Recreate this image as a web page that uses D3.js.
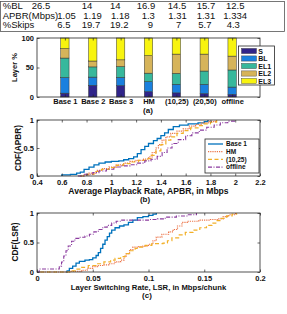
<!DOCTYPE html>
<html>
<head>
<meta charset="utf-8">
<script src="https://cdn.jsdelivr.net/npm/d3@7"></script>
<style>
  body { margin: 0; background: #fff; }
  text { font-family: "Liberation Sans", Arial, sans-serif; }
</style>
</head>
<body>
<svg id="chart" width="287" height="314"></svg>
<script>
// ---- data ----
const schemes = ["Base 1", "Base 2", "Base 3", "HM", "(10,25)", "(20,50)", "offline"];
const rowLabels = ["%BL", "APBR(Mbps)", "%Skips"];
const pctBL = ["26.5", "14", "14", "16.9", "14.5", "15.7", "12.5"];
const apbr = ["1.05", "1.19", "1.18", "1.3", "1.31", "1.31", "1.334"];
const pctSkips = ["6.5", "19.7", "19.2", "9", "7", "5.7", "4.3"];

const layerNames = ["S", "BL", "EL1", "EL2", "EL3"];
const layerS = [6.5, 19.7, 19.2, 9, 7, 5.7, 4.3];
const layerBL = [26.5, 14, 14, 16.9, 14.5, 15.7, 12.5];
const layerEL1 = [33, 17.3, 18.4, 14.5, 18.5, 22.6, 29];
const layerEL2 = [16, 10, 11.4, 29.6, 32.7, 28.7, 23.5];
const layerEL3 = [18, 39, 37, 30, 27.3, 27.3, 30.7];

const cdfNames = ["Base 1", "HM", "(10,25)", "offline"];
const apbrBase1 = [[0.6,0],[0.6,0.02],[0.67,0.03],[0.72,0.05],[0.75,0.07],[0.78,0.12],[0.82,0.16],[0.86,0.2],[0.9,0.23],[0.95,0.25],[1.0,0.26],[1.06,0.27],[1.1,0.29],[1.14,0.31],[1.18,0.34],[1.21,0.4],[1.24,0.47],[1.27,0.53],[1.3,0.58],[1.34,0.63],[1.37,0.67],[1.4,0.72],[1.43,0.77],[1.46,0.83],[1.5,0.88],[1.55,0.91],[1.62,0.93],[1.7,0.95],[1.75,0.97],[1.78,1.0]];
const apbrHM = [[0.75,0],[0.78,0.02],[0.82,0.05],[0.88,0.1],[0.93,0.13],[0.98,0.16],[1.04,0.2],[1.1,0.23],[1.15,0.26],[1.2,0.28],[1.26,0.3],[1.3,0.34],[1.33,0.42],[1.36,0.5],[1.38,0.56],[1.41,0.64],[1.44,0.7],[1.48,0.76],[1.53,0.8],[1.58,0.84],[1.63,0.89],[1.68,0.92],[1.73,0.95],[1.79,0.97],[1.84,1.0]];
const apbr1025 = [[0.75,0],[0.8,0.03],[0.86,0.08],[0.92,0.12],[0.98,0.15],[1.04,0.19],[1.1,0.22],[1.16,0.25],[1.22,0.28],[1.28,0.31],[1.32,0.37],[1.36,0.45],[1.4,0.56],[1.44,0.64],[1.48,0.7],[1.53,0.76],[1.58,0.81],[1.64,0.86],[1.7,0.9],[1.75,0.93],[1.8,0.96],[1.85,1.0]];
const apbrOffline = [[0.73,0],[0.78,0.03],[0.85,0.06],[0.9,0.09],[0.96,0.12],[1.02,0.16],[1.08,0.18],[1.15,0.2],[1.21,0.23],[1.27,0.27],[1.32,0.3],[1.37,0.35],[1.41,0.42],[1.45,0.5],[1.49,0.58],[1.54,0.65],[1.6,0.72],[1.65,0.77],[1.71,0.82],[1.77,0.87],[1.83,0.91],[1.88,0.95],[1.94,0.98],[2.0,1.0]];

const lsrBase1 = [[0.026,0],[0.027,0.02],[0.029,0.06],[0.032,0.1],[0.035,0.15],[0.038,0.18],[0.043,0.2],[0.047,0.21],[0.05,0.24],[0.053,0.28],[0.055,0.33],[0.057,0.4],[0.059,0.47],[0.061,0.54],[0.063,0.6],[0.065,0.66],[0.067,0.71],[0.07,0.75],[0.074,0.78],[0.078,0.8],[0.082,0.84],[0.086,0.88],[0.09,0.92],[0.095,0.94],[0.1,0.96],[0.104,0.98],[0.107,1.0]];
const lsrHM = [[0.003,0],[0.03,0.01],[0.04,0.03],[0.045,0.06],[0.05,0.09],[0.055,0.11],[0.06,0.12],[0.065,0.14],[0.07,0.17],[0.075,0.2],[0.078,0.26],[0.08,0.31],[0.083,0.38],[0.086,0.42],[0.09,0.43],[0.095,0.44],[0.1,0.47],[0.104,0.53],[0.107,0.59],[0.112,0.64],[0.118,0.68],[0.122,0.72],[0.126,0.78],[0.13,0.84],[0.135,0.86],[0.145,0.88],[0.155,0.89],[0.163,0.9],[0.167,0.94],[0.172,0.97],[0.178,1.0]];
const lsr1025 = [[0.003,0],[0.03,0.02],[0.035,0.05],[0.04,0.08],[0.046,0.11],[0.053,0.14],[0.06,0.17],[0.066,0.2],[0.07,0.23],[0.075,0.26],[0.079,0.31],[0.083,0.36],[0.088,0.4],[0.092,0.42],[0.097,0.45],[0.103,0.48],[0.113,0.49],[0.117,0.53],[0.121,0.58],[0.127,0.63],[0.133,0.67],[0.14,0.71],[0.146,0.75],[0.152,0.79],[0.157,0.83],[0.161,0.87],[0.165,0.91],[0.17,0.95],[0.175,0.98],[0.179,1.0]];
const lsrOffline = [[0,0],[0.002,0.05],[0.018,0.05],[0.02,0.1],[0.022,0.17],[0.024,0.27],[0.026,0.36],[0.028,0.44],[0.031,0.52],[0.034,0.57],[0.038,0.59],[0.043,0.61],[0.047,0.64],[0.051,0.68],[0.055,0.72],[0.059,0.76],[0.063,0.79],[0.067,0.83],[0.071,0.86],[0.076,0.88],[0.1,0.89],[0.108,0.9],[0.115,0.93],[0.125,0.95],[0.135,0.97],[0.143,1.0]];

// ---- styles ----
const layerColors = ["#30248a", "#1a80de", "#37b89c", "#d6b45a", "#f8f40f"];
const lineStyles = [
  {color: "#0072bd", dash: null, width: 1.3},
  {color: "#ec7448", dash: "1.2,1", width: 1.2},
  {color: "#f2b028", dash: "4,2.5", width: 1.2},
  {color: "#8a3a9e", dash: "4,1.5,1,1.5", width: 1.1}
];
const axisColor = "#262626";
const tickLen = 2.5;

const svg = d3.select("#chart");
svg.append("rect").attr("width", 287).attr("height", 314).attr("fill", "#fff");

// ---- table ----
const table = svg.append("g");
table.append("rect")
  .attr("x", 0.5).attr("y", 1.5).attr("width", 284).attr("height", 30)
  .attr("fill", "#fff").attr("stroke", "#555").attr("stroke-width", 0.8);
const tableRowsData = [pctBL, apbr, pctSkips];
const rowBase = [9.3, 18.7, 28];
const colStart = [
  [31.7, 81.7, 110, 136.7, 167.7, 196.7, 226],
  [57.3, 83.3, 111, 141.7, 168.3, 196.7, 223.3],
  [57.3, 81.7, 110, 147.7, 176, 198.3, 226.7]
];
tableRowsData.forEach((row, r) => {
  table.append("text").attr("x", 2.7).attr("y", rowBase[r])
    .attr("font-size", 9.5).attr("fill", "#111").text(rowLabels[r]);
  table.selectAll(null).data(row).join("text")
    .attr("x", (d, i) => colStart[r][i]).attr("y", rowBase[r])
    .attr("font-size", 9.5).attr("fill", "#111").text(d => d);
});

// ---- generic MATLAB-like box axes ----
function boxAxes(g, x, y, xTicks, yTicks, xFmt, yFmt, xPad) {
  const [x0, x1] = x.range();
  const [y0, y1] = y.range();
  const style = sel => {
    sel.select(".domain").remove();
    sel.selectAll("line").attr("stroke", axisColor).attr("stroke-width", 0.7);
    sel.selectAll("text").attr("fill", "#111").attr("font-size", 7.5).attr("font-weight", "bold");
  };
  g.append("g").attr("transform", `translate(0,${y0})`)
    .call(d3.axisBottom(x).tickValues(xTicks).tickFormat(xFmt).tickSizeInner(-tickLen).tickSizeOuter(0).tickPadding(xPad))
    .call(style);
  g.append("g").attr("transform", `translate(0,${y1})`)
    .call(d3.axisTop(x).tickValues(xTicks).tickFormat("").tickSizeInner(-tickLen).tickSizeOuter(0))
    .call(style);
  g.append("g").attr("transform", `translate(${x0},0)`)
    .call(d3.axisLeft(y).tickValues(yTicks).tickFormat(yFmt).tickSizeInner(-tickLen).tickSizeOuter(0).tickPadding(3))
    .call(style);
  g.append("g").attr("transform", `translate(${x1},0)`)
    .call(d3.axisRight(y).tickValues(yTicks).tickFormat("").tickSizeInner(-tickLen).tickSizeOuter(0))
    .call(style);
  g.append("rect").attr("x", x0).attr("y", y1).attr("width", x1 - x0).attr("height", y0 - y1)
    .attr("fill", "none").attr("stroke", axisColor).attr("stroke-width", 0.8);
}

function yLabel(g, text, cx, cy, size) {
  g.append("text").attr("transform", `translate(${cx},${cy}) rotate(-90)`)
    .attr("text-anchor", "middle").attr("font-size", size).attr("font-weight", "bold")
    .attr("fill", "#111").text(text);
}
function cText(g, text, cx, y, size) {
  g.append("text").attr("x", cx).attr("y", y).attr("text-anchor", "middle")
    .attr("font-size", size).attr("font-weight", "bold").attr("fill", "#111").text(text);
}

// ---- (a) stacked bars ----
const ga = svg.append("g");
const xa = d3.scaleLinear().domain([0, 8]).range([37, 260]);
const ya = d3.scaleLinear().domain([0, 100]).range([97, 38]);
const barRows = schemes.map((s, i) => ({
  scheme: s, idx: i + 1,
  S: layerS[i], BL: layerBL[i], EL1: layerEL1[i], EL2: layerEL2[i], EL3: layerEL3[i]
}));
const stacked = d3.stack().keys(layerNames)(barRows);
const barW = xa(0.3) - xa(0);
ga.selectAll("g.layer").data(stacked).join("g")
  .attr("fill", (d, i) => layerColors[i])
  .selectAll("rect").data(d => d).join("rect")
  .attr("x", d => xa(d.data.idx) - barW / 2)
  .attr("y", d => ya(d[1]))
  .attr("width", barW)
  .attr("height", d => ya(d[0]) - ya(d[1]))
  .attr("stroke", "#333").attr("stroke-width", 0.5);
boxAxes(ga, xa, ya, d3.range(1, 8), [0, 50, 100], d => schemes[d - 1], d3.format("d"), 1.8);
yLabel(ga, "Layer %", 16.5, 67.5, 7.5);
cText(ga, "(a)", 148, 112.5, 8);

// legend (a)
const la = ga.append("g");
la.append("rect").attr("x", 238.5).attr("y", 46).attr("width", 36).attr("height", 39)
  .attr("fill", "#fff").attr("stroke", axisColor).attr("stroke-width", 0.8);
layerNames.forEach((n, i) => {
  const cy = 51 + i * 7.5;
  la.append("rect").attr("x", 241.5).attr("y", cy - 2.6).attr("width", 15).attr("height", 5.2)
    .attr("fill", layerColors[i]).attr("stroke", "#333").attr("stroke-width", 0.4);
  la.append("text").attr("x", 258.3).attr("y", cy + 2.5).attr("font-size", 7)
    .attr("font-weight", "bold").attr("fill", "#111").text(n);
});

// ---- CDF panels ----
function cdfPanel(series, xDomain, yRange, xTicks, xFmt, xPad) {
  const g = svg.append("g");
  const x = d3.scaleLinear().domain(xDomain).range([37, 260]);
  const y = d3.scaleLinear().domain([0, 1]).range(yRange);
  const line = d3.line().x(d => x(d[0])).y(d => y(d[1])).curve(d3.curveStepAfter);
  series.forEach((s, i) => {
    g.append("path").datum(s).attr("d", line).attr("fill", "none")
      .attr("stroke", lineStyles[i].color).attr("stroke-width", lineStyles[i].width)
      .attr("stroke-dasharray", lineStyles[i].dash);
  });
  boxAxes(g, x, y, xTicks, [0, 0.5, 1], xFmt, d3.format("~g"), xPad);
  return g;
}

const gb = cdfPanel([apbrBase1, apbrHM, apbr1025, apbrOffline], [0.4, 2.2], [176, 120],
  d3.range(4, 23, 2).map(v => v / 10), d3.format("~g"), 3.5);
yLabel(gb, "CDF(APBR)", 20.5, 148, 8.3);
cText(gb, "Average Playback Rate, APBR, in Mbps", 148.5, 193.8, 8.6);
cText(gb, "(b)", 145, 201.5, 8);

// legend (b)
const lb = gb.append("g");
lb.append("rect").attr("x", 205).attr("y", 139).attr("width", 54).attr("height", 34)
  .attr("fill", "#fff").attr("stroke", axisColor).attr("stroke-width", 0.8);
cdfNames.forEach((n, i) => {
  const cy = 144 + i * 7.7;
  lb.append("line").attr("x1", 208).attr("x2", 223).attr("y1", cy).attr("y2", cy)
    .attr("stroke", lineStyles[i].color).attr("stroke-width", lineStyles[i].width)
    .attr("stroke-dasharray", lineStyles[i].dash);
  lb.append("text").attr("x", 226).attr("y", cy + 2.3).attr("font-size", 6.5)
    .attr("font-weight", "bold").attr("fill", "#111").text(n);
});

const gc = cdfPanel([lsrBase1, lsrHM, lsr1025, lsrOffline], [0, 0.2], [272, 213],
  [0, 0.05, 0.1, 0.15, 0.2], d3.format("~g"), 3.4);
yLabel(gc, "CDF(LSR)", 17.5, 242, 8.3);
cText(gc, "Layer Switching Rate, LSR, in Mbps/chunk", 148.5, 290, 7.7);
cText(gc, "(c)", 147, 297.5, 8);
</script>
</body>
</html>
